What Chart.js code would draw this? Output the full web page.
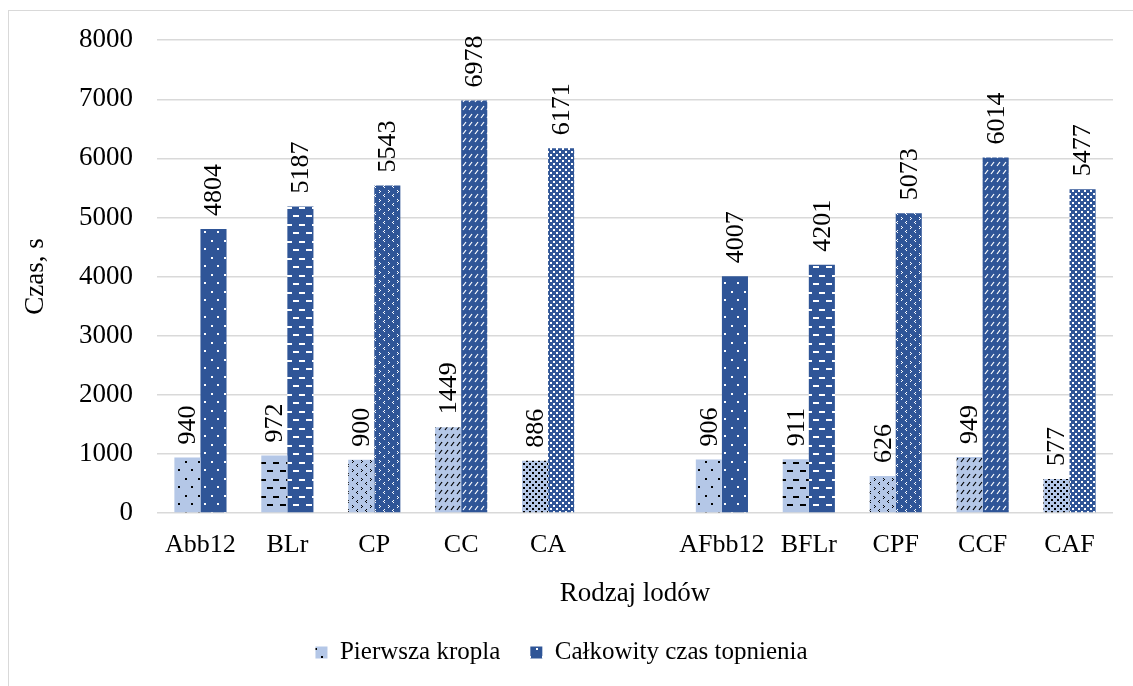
<!DOCTYPE html>
<html>
<head>
<meta charset="utf-8">
<script src="https://cdn.jsdelivr.net/npm/chart.js@4/dist/chart.umd.min.js"></script>
<style>
  html, body { margin: 0; padding: 0; background: #fff; }
  #wrap { width: 1133px; height: 686px; }
</style>
</head>
<body>
<div id="wrap"><canvas id="chart" width="1133" height="686"></canvas></div>
<script>
const categories = ['Abb12', 'BLr', 'CP', 'CC', 'CA', '', 'AFbb12', 'BFLr', 'CPF', 'CCF', 'CAF'];
const firstDrop = [940, 972, 900, 1449, 886, null, 906, 911, 626, 949, 577];
const totalTime = [4804, 5187, 5543, 6978, 6171, null, 4007, 4201, 5073, 6014, 5477];
const seriesNames = ['Pierwsza kropla', 'Całkowity czas topnienia'];
const patternKinds = ['dots', 'dashes', 'confetti', 'diag', 'dense', 'dots', 'dots', 'dashes', 'confetti', 'diag', 'dense'];

const LIGHT = '#b4c7e7', DARK = '#2f5597';
const FONT = '"Liberation Serif", "Times New Roman", serif';

function makePattern(kind, bg, fg) {
    const c = document.createElement('canvas');
    const ctx = c.getContext('2d');
    let w = 8, h = 8;
    if (kind === 'dots') { w = 13; h = 17; }
    if (kind === 'dashes') { w = 13; h = 17; }
    if (kind === 'confetti') { w = 9; h = 9; }
    if (kind === 'diag') { w = 6; h = 8; }
    if (kind === 'dense') { w = 6; h = 6; }
    c.width = w; c.height = h;
    ctx.fillStyle = bg;
    ctx.fillRect(0, 0, w, h);
    ctx.fillStyle = fg;
    ctx.strokeStyle = fg;
    if (kind === 'dots') {
        ctx.fillRect(3, 2, 2, 2);
        ctx.fillRect(9, 10, 2, 2);
    } else if (kind === 'dashes') {
        ctx.fillRect(0, 3, 6, 2);
        ctx.fillRect(7, 11, 6, 2);
    } else if (kind === 'confetti') {
        ctx.fillRect(1, 1, 1, 1);
        ctx.fillRect(2, 2, 1, 1);
        ctx.fillRect(1, 3, 1, 1);
        ctx.fillRect(6, 5, 1, 1);
        ctx.fillRect(5, 6, 1, 1);
        ctx.fillRect(6, 7, 1, 1);
    } else if (kind === 'diag') {
        ctx.lineWidth = 1.2;
        ctx.beginPath();
        ctx.moveTo(1, 6); ctx.lineTo(4, 2);
        ctx.stroke();
    } else if (kind === 'dense') {
        ctx.fillRect(1, 1, 2, 2);
        ctx.fillRect(4, 4, 2, 2);
    }
    return document.getElementById('chart').getContext('2d').createPattern(c, 'repeat');
}

const lightFills = patternKinds.map(k => makePattern(k, LIGHT, '#000'));
const darkFills = patternKinds.map(k => makePattern(k, DARK, '#fff'));

Chart.defaults.font.family = FONT;
Chart.defaults.font.size = 27;
Chart.defaults.color = '#000';

const frame = {
    id: 'frame',
    beforeDraw(chart) {
        const ctx = chart.ctx;
        ctx.save();
        ctx.fillStyle = '#fff';
        ctx.fillRect(0, 0, chart.width, chart.height);
        ctx.strokeStyle = '#d9d9d9';
        ctx.lineWidth = 1;
        ctx.strokeRect(8.5, 10.5, 1300, 900);
        ctx.restore();
    }
};

const barLabels = {
    id: 'barLabels',
    afterDatasetsDraw(chart) {
        const ctx = chart.ctx;
        ctx.save();
        ctx.font = '26px ' + FONT;
        ctx.fillStyle = '#000';
        ctx.textAlign = 'left';
        ctx.textBaseline = 'middle';
        chart.data.datasets.forEach((ds, di) => {
            chart.getDatasetMeta(di).data.forEach((bar, i) => {
                const v = ds.data[i];
                if (v == null) return;
                ctx.save();
                ctx.translate(bar.x, bar.y - 13);
                ctx.rotate(-Math.PI / 2);
                ctx.fillText(String(v), 0, 1);
                ctx.restore();
            });
        });
        ctx.restore();
    }
};

new Chart(document.getElementById('chart'), {
    type: 'bar',
    data: {
        labels: categories,
        datasets: [{
            label: seriesNames[0],
            data: firstDrop,
            backgroundColor: lightFills,
            borderWidth: 0
        }, {
            label: seriesNames[1],
            data: totalTime,
            backgroundColor: darkFills,
            borderWidth: 0
        }]
    },
    options: {
        responsive: false,
        animation: false,
        categoryPercentage: 0.6,
        barPercentage: 1.0,
        layout: { padding: { left: 10, right: 20, top: 40, bottom: 11 } },
        scales: {
            x: {
                grid: { display: false, drawTicks: false },
                border: { display: false },
                ticks: { padding: 17, maxRotation: 0, autoSkip: false, font: { size: 26 } },
                title: { display: true, text: 'Rodzaj lodów', padding: { top: 0, bottom: 0 } },
                afterFit(scale) { scale.height = 97; }
            },
            y: {
                min: 0,
                max: 8000,
                ticks: { stepSize: 1000, padding: 24, callback: v => String(v) },
                grid: { color: '#d9d9d9', lineWidth: 1.5, drawTicks: false },
                border: { display: false },
                title: { display: true, text: 'Czas, s', padding: { top: 10, bottom: 0 } },
                afterFit(scale) { scale.width = 147; }
            }
        },
        plugins: {
            legend: {
                position: 'bottom',
                labels: { boxWidth: 12, boxHeight: 12, padding: 30, font: { size: 25 } }
            },
            tooltip: { enabled: false }
        }
    },
    plugins: [frame, barLabels]
});
</script>
</body>
</html>
